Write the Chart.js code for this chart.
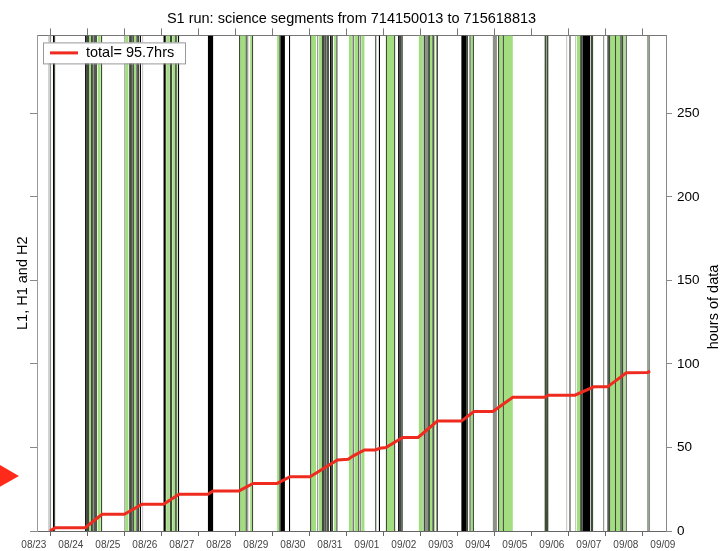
<!DOCTYPE html>
<html>
<head>
<meta charset="utf-8">
<script src="https://cdn.jsdelivr.net/npm/chart.js@4.4.1/dist/chart.umd.min.js"></script>
<style>
  html, body { margin: 0; padding: 0; background: #fff; }
  #wrap { width: 723px; height: 551px; }
</style>
</head>
<body>
<div id="wrap"><canvas id="segChart"></canvas></div>
<script>
// x = days since run start (GPS 714150013), y = hours of data
const dateLabels = ['08/23', '08/24', '08/25', '08/26', '08/27', '08/28', '08/29', '08/30', '08/31',
    '09/01', '09/02', '09/03', '09/04', '09/05', '09/06', '09/07', '09/08', '09/09'];
const tickDays = [0.375, 1.375, 2.375, 3.375, 4.375, 5.375, 6.375, 7.375, 8.375,
    9.375, 10.375, 11.375, 12.375, 13.375, 14.375, 15.375, 16.375, 17.375];
const runDays = 17;
const yMax = 296.7;
const segTop = 300;

// science segments, [start, end] in days
const lightSegs = [[0.30, 0.34], [2.84, 2.87], [14.30, 14.33], [14.54, 14.57]];
const graySegs = [[0.34, 0.38], [1.51, 1.54], [2.36, 2.39], [5.68, 5.71], [7.57, 7.60], [7.80, 7.84],
    [8.73, 8.76], [10.49, 10.57], [11.68, 11.73], [12.32, 12.43], [14.38, 14.43], [15.30, 15.33], [16.53, 16.57]];
const greenSegs = [[1.41, 1.46], [1.64, 1.72], [2.39, 2.47], [2.62, 2.68], [3.50, 3.58], [3.66, 3.73],
    [3.77, 3.80], [5.49, 5.64], [5.76, 5.81], [6.49, 6.55], [7.41, 7.54], [7.62, 7.70], [8.03, 8.08],
    [8.43, 8.51], [8.58, 8.68], [8.77, 8.85], [9.46, 9.65], [10.32, 10.43], [10.62, 10.68], [10.72, 10.76],
    [11.73, 11.78], [12.49, 12.59], [12.62, 12.86], [14.59, 14.68], [15.49, 15.62], [15.65, 15.76], [15.84, 15.89]];
const darkSegs = [[0.46, 0.49], [1.34, 1.41], [1.46, 1.51], [1.58, 1.62], [1.73, 1.76], [2.49, 2.54],
    [2.59, 2.62], [2.73, 2.76], [3.46, 3.49], [3.59, 3.65], [5.46, 5.49], [5.64, 5.67], [5.81, 5.84],
    [6.55, 6.58], [7.38, 7.41], [7.70, 7.76], [7.84, 7.89], [7.95, 8.00], [8.09, 8.12], [8.41, 8.43],
    [8.53, 8.56], [8.68, 8.71], [9.14, 9.17], [9.43, 9.46], [9.65, 9.68], [9.80, 9.84], [10.30, 10.32],
    [10.45, 10.49], [10.57, 10.62], [11.61, 11.65], [11.78, 11.81], [12.46, 12.49], [12.59, 12.62],
    [13.72, 13.76], [13.78, 13.82], [14.68, 14.73], [14.97, 15.03], [15.46, 15.49], [15.62, 15.65],
    [15.80, 15.84], [15.91, 15.94], [16.50, 16.53]];
const blackSegs = [[0.43, 0.46], [1.30, 1.34], [1.55, 1.58], [2.55, 2.58], [2.69, 2.72], [2.78, 2.81],
    [3.42, 3.46], [3.74, 3.77], [3.81, 3.84], [4.62, 4.76], [6.58, 6.70], [6.81, 6.84], [7.77, 7.80],
    [7.92, 7.95], [9.24, 9.27], [9.76, 9.80], [9.85, 9.88], [10.69, 10.72], [10.80, 10.83], [11.47, 11.61],
    [13.76, 13.78], [14.74, 14.95], [15.03, 15.05], [15.42, 15.45], [15.77, 15.80]];

// cumulative hours of data
const totalDays = [0.35, 0.49, 1.30, 1.76, 2.36, 2.84, 3.42, 3.84, 4.62, 4.76, 5.46, 5.84, 6.49, 6.84,
    7.38, 8.12, 8.41, 8.55, 8.85, 9.14, 9.27, 9.43, 9.88, 10.30, 10.82, 11.47, 11.81, 12.32, 12.86,
    13.72, 13.82, 14.54, 15.05, 15.42, 15.93, 16.50, 16.57];
const totalHours = [0, 2, 2, 10, 10, 16, 16, 22, 22, 24, 24, 28.5, 28.5, 32.5,
    32.5, 42.5, 43, 45, 48.5, 48.5, 49.5, 50, 56, 56, 65.8, 65.8, 71.5, 71.5, 80,
    80, 81.3, 81.3, 86.3, 86.3, 94.7, 94.9, 95.7];

// red pointer left of the plot
const markerDay = -0.84;
const markerHours = 33;

const redColor = '#ee2b1e';
const fontFamily = '"Liberation Sans", Arial, sans-serif';

function rectPoints(segs) {
    const pts = [];
    segs.forEach(([s, e]) => {
        pts.push({ x: s, y: 0 }, { x: s, y: segTop }, { x: e, y: segTop }, { x: e, y: 0 });
    });
    return pts;
}

function segDataset(segs, color, order) {
    return {
        data: rectPoints(segs),
        yAxisID: 'y',
        backgroundColor: color,
        borderColor: 'rgba(0,0,0,0)',
        borderWidth: 0,
        pointRadius: 0,
        fill: 'origin',
        tension: 0,
        order: order
    };
}

// hide tick marks that fall past the end of the run
const tickMarkColor = (color) => (ctx) => (ctx.tick && ctx.tick.value > runDays ? 'rgba(0,0,0,0)' : color);

// legend box, pointer and right axis title
const overlayPlugin = {
    id: 'overlay',
    afterDraw(chart) {
        const { ctx, chartArea, scales } = chart;
        ctx.save();

        ctx.fillStyle = '#ff2a1a';
        Chart.helpers.drawPoint(ctx, { pointStyle: 'triangle', rotation: 90, radius: 13, borderWidth: 0 },
            scales.x.getPixelForValue(markerDay), scales.y2.getPixelForValue(markerHours));

        const lx = chartArea.left + 6;
        const ly = chartArea.top + 7;
        ctx.fillStyle = '#fff';
        ctx.fillRect(lx, ly, 142, 21);
        ctx.strokeStyle = '#999';
        ctx.lineWidth = 1;
        ctx.strokeRect(lx + 0.5, ly + 0.5, 142, 21);
        ctx.strokeStyle = redColor;
        ctx.lineWidth = 3;
        ctx.beginPath();
        ctx.moveTo(lx + 7, ly + 10.5);
        ctx.lineTo(lx + 35, ly + 10.5);
        ctx.stroke();
        ctx.fillStyle = '#000';
        ctx.font = '14.5px ' + fontFamily;
        ctx.textBaseline = 'middle';
        ctx.fillText(`total= ${totalHours[totalHours.length - 1].toFixed(1)}hrs`, lx + 43, ly + 11);

        ctx.translate(chartArea.right + 48, 307);
        ctx.rotate(-Math.PI / 2);
        ctx.textAlign = 'center';
        ctx.fillText('hours of data', 0, 0);
        ctx.restore();
    }
};

Chart.defaults.font.family = fontFamily;

new Chart(document.getElementById('segChart'), {
    type: 'line',
    data: {
        datasets: [
            {
                data: totalDays.map((d, i) => ({ x: d, y: totalHours[i] })),
                yAxisID: 'y2',
                borderColor: redColor,
                borderWidth: 3,
                pointRadius: 0,
                fill: false,
                tension: 0,
                order: 0
            },
            segDataset(blackSegs, '#000000', 1),
            segDataset(darkSegs, '#3f4d37', 2),
            segDataset(greenSegs, '#a2de80', 3),
            segDataset(graySegs, '#8b9088', 4),
            segDataset(lightSegs, '#c8c8c8', 5)
        ]
    },
    options: {
        responsive: true,
        maintainAspectRatio: false,
        animation: false,
        events: [],
        layout: { padding: 0 },
        plugins: {
            legend: { display: false },
            tooltip: { enabled: false },
            title: {
                display: true,
                fullSize: false,
                text: 'S1 run: science segments from 714150013 to 715618813',
                color: '#000',
                font: { size: 14.5, weight: 'normal' },
                padding: { top: 10, bottom: 1 }
            }
        },
        scales: {
            x: {
                type: 'linear',
                position: 'bottom',
                min: 0,
                max: runDays,
                afterBuildTicks: (scale) => { scale.ticks = tickDays.map(v => ({ value: v })); },
                afterFit: (scale) => { scale.height = 20; },
                ticks: {
                    autoSkip: false,
                    maxRotation: 0,
                    labelOffset: -17,
                    padding: 3,
                    color: '#444',
                    font: { size: 10 },
                    callback: (value, index) => dateLabels[index]
                },
                grid: { drawOnChartArea: false, tickLength: 5, color: '#666', tickColor: tickMarkColor('#666') },
                border: { color: '#666' }
            },
            xTop: {
                type: 'linear',
                position: 'top',
                min: 0,
                max: runDays,
                afterBuildTicks: (scale) => { scale.ticks = tickDays.filter(v => v <= runDays).map(v => ({ value: v })); },
                afterFit: (scale) => { scale.height = 7; },
                ticks: { display: false, autoSkip: false },
                grid: { drawOnChartArea: false, tickLength: 7, color: '#777', tickColor: tickMarkColor('#777') },
                border: { color: '#777' }
            },
            y: {
                type: 'linear',
                position: 'left',
                min: 0,
                max: yMax,
                afterFit: (scale) => { scale.width = 37; },
                ticks: { display: false, stepSize: 50, includeBounds: false },
                grid: { drawOnChartArea: false, tickLength: 7, color: '#888' },
                border: { color: '#999' },
                title: {
                    display: true,
                    text: 'L1, H1 and H2',
                    color: '#000',
                    font: { size: 14.5 },
                    padding: { top: 14, bottom: 0 }
                }
            },
            y2: {
                type: 'linear',
                position: 'right',
                min: 0,
                max: yMax,
                afterFit: (scale) => { scale.width = 57; },
                ticks: { stepSize: 50, includeBounds: false, padding: 5, color: '#000', font: { size: 13.5 } },
                grid: { drawOnChartArea: false, tickLength: 6, color: '#888' },
                border: { color: '#888' }
            }
        }
    },
    plugins: [overlayPlugin]
});
</script>
</body>
</html>
